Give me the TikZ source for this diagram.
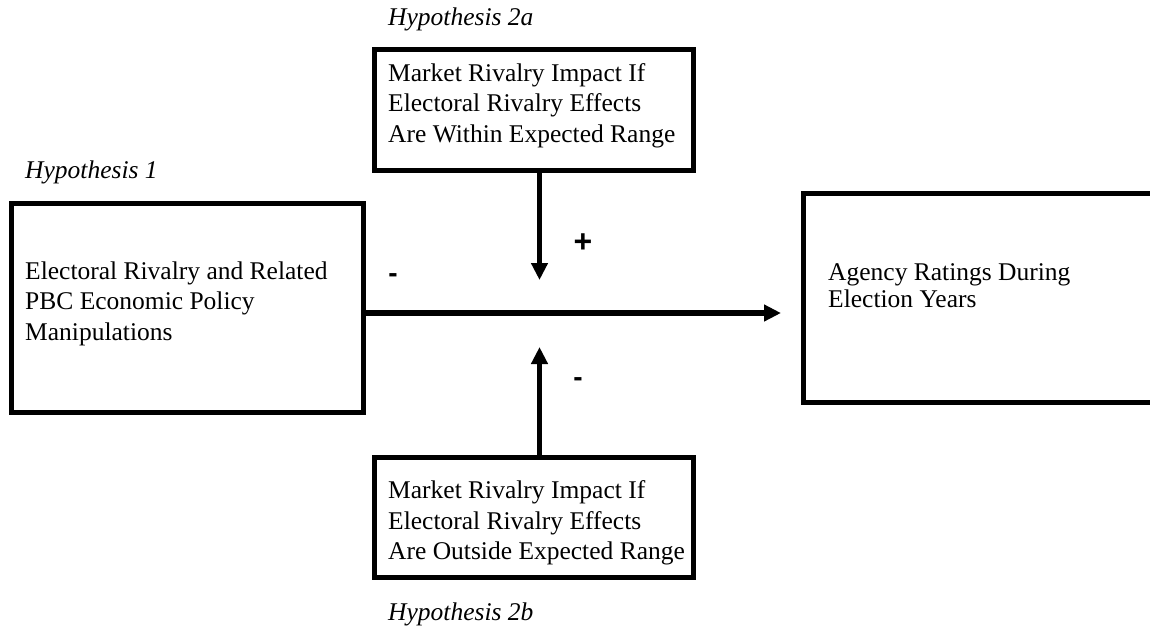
\documentclass[tikz,border=0pt]{standalone}
\usepackage{fontspec}
\setmainfont{Liberation Serif}
\newfontfamily\sansf{Liberation Sans}
\usetikzlibrary{arrows.meta}
\newcommand{\stk}[1]{\vtop{\halign{##\hfil\cr #1\crcr}}}
\tikzset{
  boxn/.style={draw, line width=5pt, rectangle, inner sep=0pt},
  txt/.style={anchor=base west, inner sep=0pt, font=\fontsize{25.5}{30.5}\selectfont},
  hyp/.style={anchor=base west, inner sep=0pt, font=\fontsize{25.5}{30}\selectfont\itshape},
  sgn/.style={inner sep=0pt, font=\sansf\bfseries\fontsize{28}{30}\selectfont},
  arr/.style={line width=5.5pt, -{Triangle[length=17pt,width=16pt]}}
}
\begin{document}
\begin{tikzpicture}[x=1pt,y=-1pt]
\useasboundingbox (0,0) rectangle (1150,630);
% boxes
\node[boxn, minimum width=352pt, minimum height=209pt] (left) at (187.5,308) {};
\node[boxn, minimum width=319pt, minimum height=121pt] (top) at (533.5,109.5) {};
\node[boxn, minimum width=319pt, minimum height=120pt] (bot) at (533.5,517.5) {};
\node[boxn, minimum width=357pt, minimum height=209pt] (right) at (981.5,297.5) {};
% texts
\node[txt] (lefttxt) at (25,279) {\stk{Electoral Rivalry and Related\cr PBC Economic Policy\cr Manipulations}};
\node[txt] (toptxt) at (388,81) {\stk{Market Rivalry Impact If\cr Electoral Rivalry Effects\cr Are Within Expected Range}};
\node[txt] (bottxt) at (388,498.5) {\stk{Market Rivalry Impact If\cr Electoral Rivalry Effects\cr Are Outside Expected Range}};
\node[txt, font=\fontsize{25.5}{27}\selectfont] (righttxt) at (828,280) {\stk{Agency Ratings During\cr Election Years}};
% hypothesis labels
\node[hyp] (h1) at (25,178) {Hypothesis 1};
\node[hyp] (h2a) at (388,25) {Hypothesis 2a};
\node[hyp] (h2b) at (388,620) {Hypothesis 2b};
% arrows
\coordinate (hend) at (781,313);
\coordinate (dtip) at (539.5,280);
\coordinate (utip) at (539.5,347);
\draw[arr] (left.east |- hend) -- (hend);
\draw[arr] (top.south -| dtip) -- (dtip);
\draw[arr] (bot.north -| utip) -- (utip);
% signs
\node[sgn] (sminus1) at (393,278) {-};
\node[sgn, font=\sansf\bfseries\fontsize{32}{34}\selectfont] (splus) at (583,243) {+};
\node[sgn] (sminus2) at (578,382) {-};
\end{tikzpicture}
\end{document}
